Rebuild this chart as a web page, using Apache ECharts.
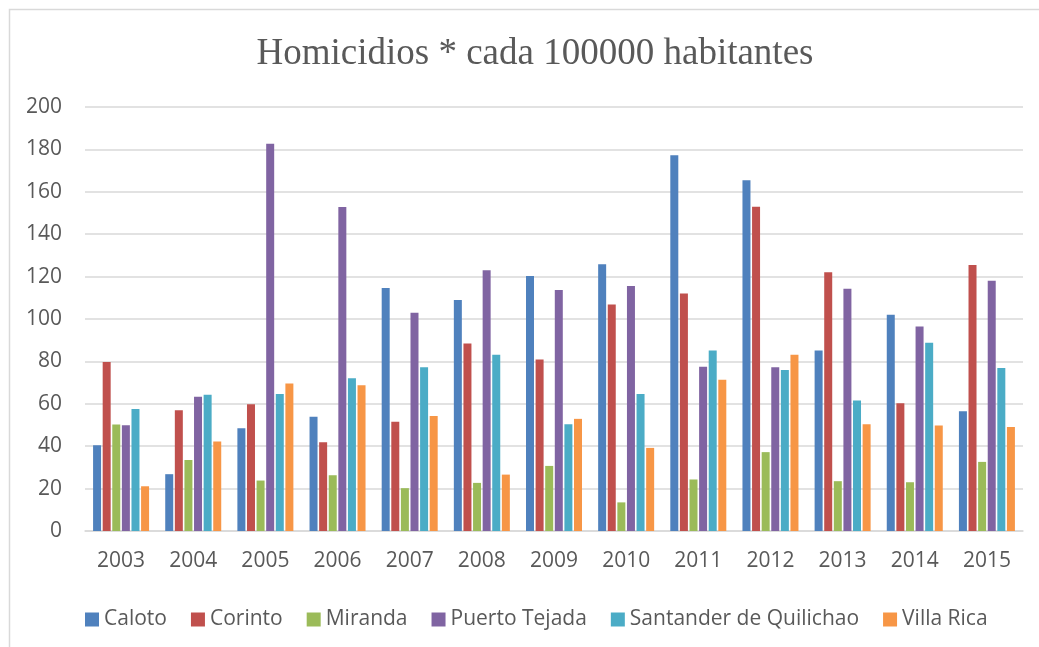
<!DOCTYPE html>
<html>
<head>
<meta charset="utf-8">
<script src="https://cdn.jsdelivr.net/npm/echarts@6/dist/echarts.min.js"></script>
<style>
  html, body { margin: 0; padding: 0; background: #ffffff; }
  #chart { width: 1039px; height: 647px; }
</style>
</head>
<body>
<div id="chart"></div>
<script>
// datos
const years = ["2003", "2004", "2005", "2006", "2007", "2008", "2009", "2010", "2011", "2012", "2013", "2014", "2015"];
const caloto = [40.5, 26.8, 48.5, 53.9, 114.6, 109.0, 120.3, 125.8, 177.2, 165.4, 85.2, 102.0, 56.5];
const corinto = [79.7, 57.0, 59.8, 41.9, 51.5, 88.5, 80.9, 106.8, 112.0, 152.9, 122.0, 60.3, 125.5];
const miranda = [50.2, 33.5, 23.8, 26.3, 20.2, 22.7, 30.7, 13.5, 24.3, 37.2, 23.5, 23.0, 32.6];
const puertoTejada = [49.9, 63.3, 182.7, 152.8, 103.0, 123.0, 113.7, 115.6, 77.5, 77.2, 114.3, 96.5, 118.1];
const santander = [57.5, 64.3, 64.6, 72.1, 77.2, 83.1, 50.4, 64.6, 85.2, 75.9, 61.6, 88.8, 76.9];
const villaRica = [21.1, 42.2, 69.6, 68.8, 54.3, 26.6, 52.9, 39.2, 71.3, 83.1, 50.4, 49.8, 49.1];

const seriesNames = ["Caloto", "Corinto", "Miranda", "Puerto Tejada", "Santander de Quilichao", "Villa Rica"];
const seriesData = [caloto, corinto, miranda, puertoTejada, santander, villaRica];
const colors = ["#4F81BD", "#C0504D", "#9BBB59", "#8064A2", "#4BACC6", "#F79646"];

const chart = echarts.init(document.getElementById("chart"));

const option = {
  animation: false,
  color: colors,
  title: {
    text: "Homicidios * cada 100000 habitantes",
    left: 530,
    textAlign: "center",
    top: 31,
    textStyle: {
      fontFamily: "Liberation Serif",
      fontSize: 37,
      fontWeight: "normal",
      color: "#595959",
    },
  },
  // marco del gráfico
  graphic: [
    {
      type: "rect",
      shape: { x: 9.5, y: 9.5, width: 1100, height: 700 },
      style: { fill: "none", stroke: "#d9d9d9", lineWidth: 1.5 },
      silent: true,
    },
  ],
  legend: {
    left: 80,
    top: 604,
    itemWidth: 14,
    itemHeight: 14,
    itemGap: 24,
    icon: "rect",
    textStyle: {
      fontFamily: "Open Sans",
      fontSize: 21,
      color: "#595959",
    },
    data: seriesNames,
  },
  grid: {
    left: 85,
    right: 16,
    top: 107,
    bottom: 116,
  },
  xAxis: {
    type: "category",
    data: years,
    axisTick: { show: false },
    axisLine: { lineStyle: { color: "#d9d9d9", width: 1.5 } },
    axisLabel: {
      margin: 20,
      fontFamily: "Open Sans",
      fontSize: 21,
      color: "#595959",
    },
  },
  yAxis: {
    type: "value",
    min: 0,
    max: 200,
    interval: 20,
    axisLine: { show: false },
    axisTick: { show: false },
    splitLine: { lineStyle: { color: "#d9d9d9", width: 1.5 } },
    axisLabel: {
      margin: 23,
      fontFamily: "Open Sans",
      fontSize: 21,
      color: "#595959",
    },
  },
  series: seriesNames.map((name, i) => ({
    name: name,
    type: "bar",
    data: seriesData[i],
    barWidth: 8,
    barGap: "20%",
    itemStyle: { color: colors[i] },
  })),
};

chart.setOption(option);
</script>
</body>
</html>
